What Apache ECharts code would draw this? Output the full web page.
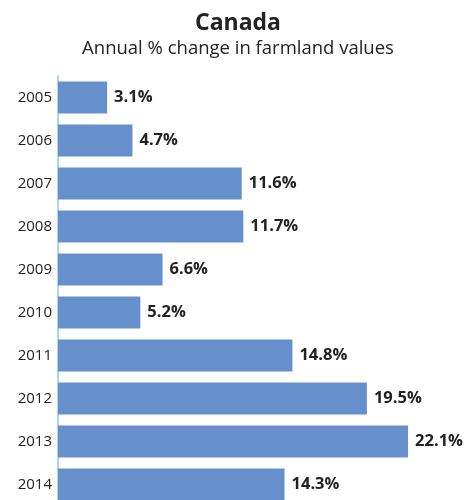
<!DOCTYPE html>
<html>
<head>
<meta charset="utf-8">
<style>
  html, body { margin: 0; padding: 0; background: #ffffff; }
  #chart { width: 476px; height: 500px; }
</style>
<script src="https://cdn.jsdelivr.net/npm/echarts@6/dist/echarts.min.js"></script>
</head>
<body>
<div id="chart"></div>
<script>
// Years shown on the category axis, top to bottom
const years = ['2005', '2006', '2007', '2008', '2009', '2010', '2011', '2012', '2013', '2014'];
// Annual % change in farmland values
const changePct = [3.1, 4.7, 11.6, 11.7, 6.6, 5.2, 14.8, 19.5, 22.1, 14.3];

const chart = echarts.init(document.getElementById('chart'));
const fontFamily = '"Open Sans", "Noto Sans", sans-serif';

chart.setOption({
  animation: false,
  title: [
    {
      text: 'Canada',
      left: 'center',
      top: 7,
      textStyle: { fontFamily, fontSize: 23, fontWeight: 'bold', color: '#222222' }
    },
    {
      text: 'Annual % change in farmland values',
      left: 'center',
      top: 34,
      textStyle: { fontFamily, fontSize: 18.5, fontWeight: 'normal', color: '#222222' }
    }
  ],
  // the last band runs past the bottom edge of the canvas
  grid: { left: 58, top: 76, width: 396, height: 430, containLabel: false, outerBoundsMode: 'none' },
  xAxis: {
    type: 'value',
    min: 0,
    max: 25,
    show: false,
    splitLine: { show: false }
  },
  yAxis: {
    type: 'category',
    data: years,
    inverse: true,
    axisLine: { show: true, lineStyle: { color: '#a9d9f2', width: 2 } },
    axisTick: { show: false },
    axisLabel: { fontFamily, fontSize: 15, color: '#222222', margin: 6 }
  },
  series: [
    {
      type: 'bar',
      data: changePct,
      barCategoryGap: '25.6%',
      itemStyle: { color: '#6690cb' },
      label: {
        show: true,
        position: 'right',
        distance: 7,
        fontFamily,
        fontSize: 16.5,
        fontWeight: 'bold',
        color: '#222222',
        formatter: p => p.value.toFixed(1) + '%'
      }
    }
  ]
});
</script>
</body>
</html>
